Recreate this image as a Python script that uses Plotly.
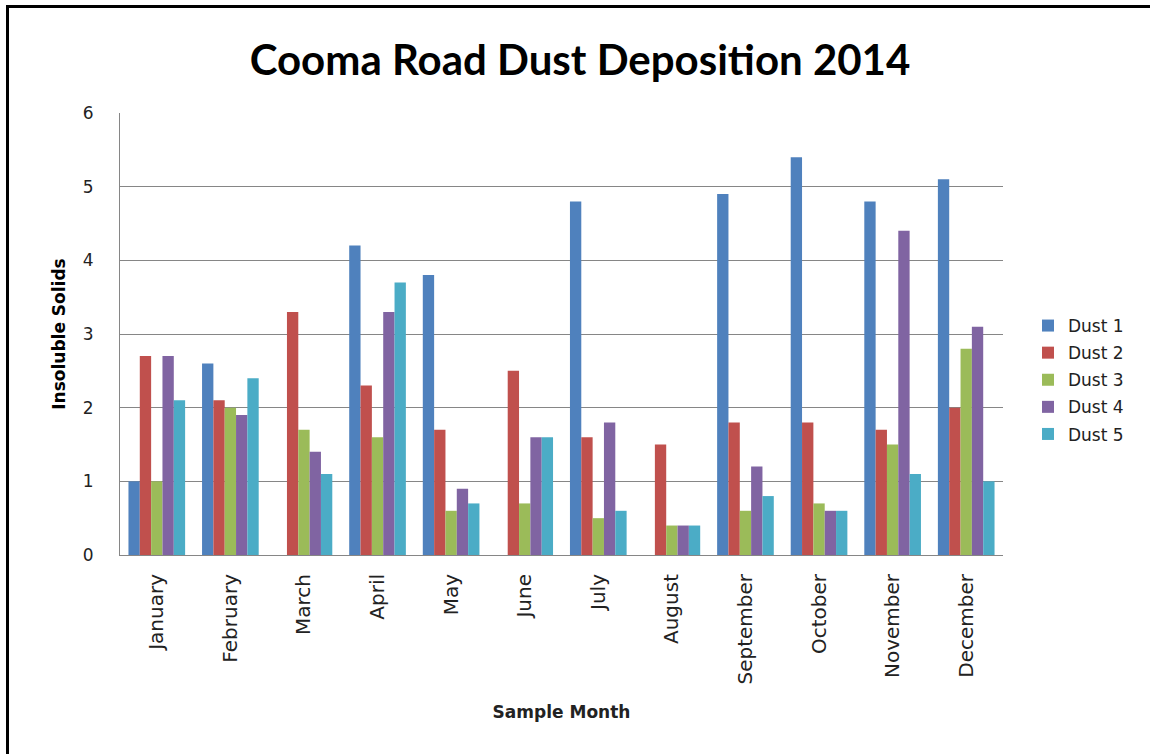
import plotly.graph_objects as go

months = ["January", "February", "March", "April", "May", "June", "July",
          "August", "September", "October", "November", "December"]
dust1 = [1.0, 2.6, 0, 4.2, 3.8, 0, 4.8, 0, 4.9, 5.4, 4.8, 5.1]
dust2 = [2.7, 2.1, 3.3, 2.3, 1.7, 2.5, 1.6, 1.5, 1.8, 1.8, 1.7, 2.0]
dust3 = [1.0, 2.0, 1.7, 1.6, 0.6, 0.7, 0.5, 0.4, 0.6, 0.7, 1.5, 2.8]
dust4 = [2.7, 1.9, 1.4, 3.3, 0.9, 1.6, 1.8, 0.4, 1.2, 0.6, 4.4, 3.1]
dust5 = [2.1, 2.4, 1.1, 3.7, 0.7, 1.6, 0.6, 0.4, 0.8, 0.6, 1.1, 1.0]
series_names = ["Dust 1", "Dust 2", "Dust 3", "Dust 4", "Dust 5"]
series = [dust1, dust2, dust3, dust4, dust5]
colors = ["#4F81BD", "#C0504D", "#9BBB59", "#8064A2", "#4BACC6"]

fig = go.Figure()
for i, (name, vals, col) in enumerate(zip(series_names, series, colors)):
    fig.add_trace(go.Bar(x=months, y=vals, name=name, marker_color=col,
                         marker_line_width=0, legendgroup=name))

W, H = 1150, 754
L, R, T, B = 120, 147, 113, 199
PW, PH = W - L - R, H - T - B

fig.update_layout(
    width=W, height=H,
    margin=dict(l=L, r=R, t=T, b=B),
    paper_bgcolor="white", plot_bgcolor="white",
    barmode="group", bargap=0.23, bargroupgap=0,
    title=dict(text="<b>Cooma Road Dust Deposition 2014</b>",
               x=580 / W, xanchor="center", y=1 - 60 / H, yanchor="middle",
               font=dict(family="Lato", size=42, color="black")),
    font=dict(family="DejaVu Sans", size=16, color="#222222"),
    legend=dict(x=(1042 - L - 14) / PW, xanchor="left",
                y=(H - B - 380) / PH, yanchor="middle",
                font=dict(family="DejaVu Sans", size=17, color="#222222"),
                tracegroupgap=2, bgcolor="rgba(0,0,0,0)"),
    showlegend=True,
)
fig.update_xaxes(
    type="category", tickangle=-90, showgrid=False,
    showline=True, linecolor="#868686", linewidth=1,
    ticks="", ticklabelstandoff=10,
    tickfont=dict(family="DejaVu Sans", size=20, color="#222222"),
    title=dict(text="<b>Sample Month</b>", standoff=22,
               font=dict(family="DejaVu Sans", size=17, color="#222222")),
)
fig.update_yaxes(
    range=[0, 6], dtick=1, showgrid=True, gridcolor="#868686", gridwidth=1,
    showline=True, linecolor="#868686", linewidth=1, zeroline=False,
    ticks="", ticklabelstandoff=22,
    tickfont=dict(family="DejaVu Sans", size=17, color="#222222"),
    title=dict(text="<b>Insoluble Solids</b>", standoff=12,
               font=dict(family="DejaVu Sans", size=17, color="black")),
)
# black frame edges visible at left and top of the reference screenshot
fx = -(L - 7.5) / PW
fy = 1 + (T - 6.5) / PH
fig.add_shape(type="line", xref="paper", yref="paper",
              x0=fx, x1=(W - L) / PW, y0=fy, y1=fy,
              line=dict(color="black", width=3))
fig.add_shape(type="line", xref="paper", yref="paper",
              x0=fx, x1=fx, y0=-B / PH, y1=fy + 1.5 / PH,
              line=dict(color="black", width=3))

fig.write_html("out.html", config={"displayModeBar": False},
               post_script="document.body.style.margin='0';document.body.style.overflow='hidden';")
